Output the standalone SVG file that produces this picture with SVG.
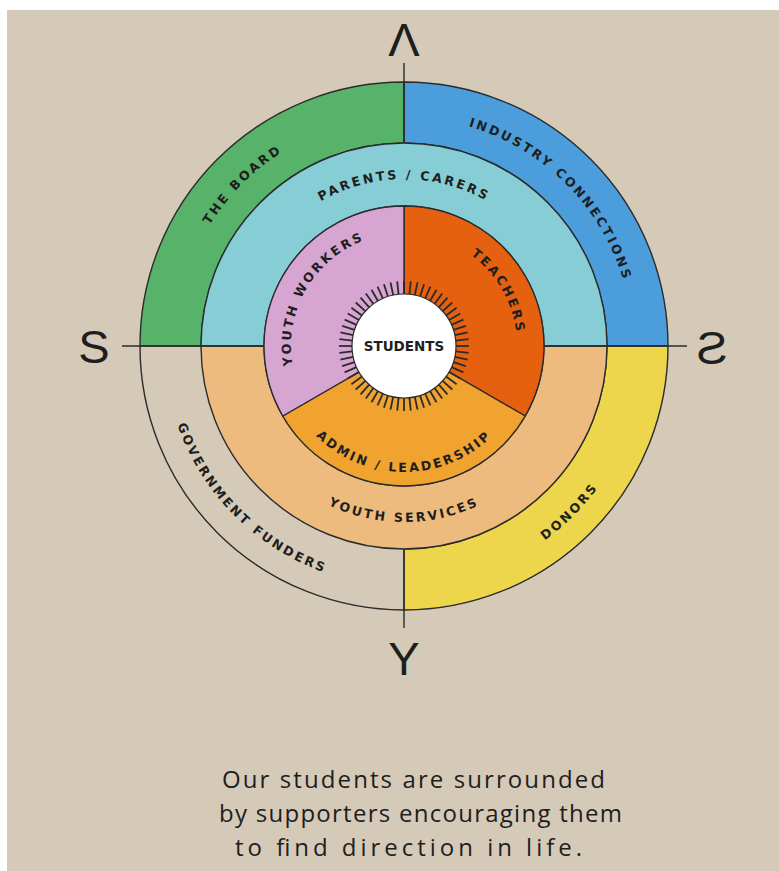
<svg xmlns="http://www.w3.org/2000/svg" xmlns:xlink="http://www.w3.org/1999/xlink" width="779" height="871" viewBox="0 0 779 871">
  <style>
    .seg { stroke: #2b2b2b; stroke-width: 1.4; stroke-linejoin: round; }
    .line { stroke: #2b2b2b; stroke-width: 1.4; fill: none; }
    .lbl { font-family: "DejaVu Sans", "Liberation Sans", sans-serif; font-weight: bold; font-size: 12.6px; letter-spacing: 2.5px; fill: #1e1e1e; }
    .compass { font-family: "Liberation Sans", Arial, sans-serif; font-size: 47px; fill: #1e1e1e; text-anchor: middle; }
    .hand { font-family: "Open Sans", "DejaVu Sans", sans-serif; font-weight: 400; font-size: 24px; fill: #1e1e1e; }
    .tick { stroke: #2b2b2b; stroke-width: 1.8; }
  </style>
  <defs>
    <line id="tick" class="tick" x1="404" y1="294" x2="404" y2="281"/>
    <path id="p-board" d="M178.5,385.8 A229,229 0 0 1 443.8,120.5"/>
    <path id="p-industry" d="M364.2,120.5 A229,229 0 0 1 629.5,385.8"/>
    <path id="p-parents" d="M247.1,288.9 A167,167 0 0 1 560.9,288.9"/>
    <path id="p-youthw" d="M306.1,402.5 A113,113 0 0 1 404,233"/>
    <path id="p-teachers" d="M404,233 A113,113 0 0 1 501.9,402.5"/>
    <path id="p-admin" d="M285.6,389.1 A126,126 0 0 0 522.4,389.1"/>
    <path id="p-yservices" d="M238.6,406.2 A176,176 0 0 0 569.4,406.2"/>
    <path id="p-gov" d="M172.2,283.9 A240,240 0 0 0 466.1,577.8"/>
    <path id="p-donors" d="M341.9,577.8 A240,240 0 0 0 635.8,283.9"/>
  </defs>

  <rect x="0" y="0" width="779" height="871" fill="#ffffff"/>
  <rect x="7" y="10" width="772" height="861" fill="#D4CAB7"/>

  <!-- outer ring -->
  <g id="the-board">
    <path class="seg" fill="#58B36A" d="M404,82 A264,264 0 0 0 140,346 L201,346 A203,203 0 0 1 404,143 Z"/>
    <text class="lbl"><textPath href="#p-board" startOffset="50%" text-anchor="middle">THE BOARD</textPath></text>
  </g>
  <g id="industry-connections">
    <path class="seg" fill="#4C9DDC" d="M404,82 A264,264 0 0 1 668,346 L607,346 A203,203 0 0 0 404,143 Z"/>
    <text class="lbl"><textPath href="#p-industry" startOffset="50%" text-anchor="middle">INDUSTRY CONNECTIONS</textPath></text>
  </g>
  <g id="donors">
    <path class="seg" fill="#EDD64B" d="M668,346 A264,264 0 0 1 404,610 L404,549 A203,203 0 0 0 607,346 Z"/>
    <text class="lbl"><textPath href="#p-donors" startOffset="50%" text-anchor="middle">DONORS</textPath></text>
  </g>
  <g id="government-funders">
    <path class="seg" fill="none" d="M404,610 A264,264 0 0 1 140,346"/>
    <text class="lbl"><textPath href="#p-gov" startOffset="50%" text-anchor="middle">GOVERNMENT FUNDERS</textPath></text>
  </g>

  <!-- middle ring -->
  <g id="parents-carers">
    <path class="seg" fill="#87CDD6" d="M201,346 A203,203 0 0 1 607,346 L544,346 A140,140 0 0 0 264,346 Z"/>
    <text class="lbl"><textPath href="#p-parents" startOffset="50%" text-anchor="middle">PARENTS / CARERS</textPath></text>
  </g>
  <g id="youth-services">
    <path class="seg" fill="#EEBB7F" d="M607,346 A203,203 0 0 1 201,346 L264,346 A140,140 0 0 0 544,346 Z"/>
    <text class="lbl"><textPath href="#p-yservices" startOffset="50%" text-anchor="middle">YOUTH SERVICES</textPath></text>
  </g>

  <!-- inner ring -->
  <g id="teachers">
    <path class="seg" fill="#E5600F" d="M404,346 L404,206 A140,140 0 0 1 525.24,416 Z"/>
    <text class="lbl"><textPath href="#p-teachers" startOffset="50%" text-anchor="middle">TEACHERS</textPath></text>
  </g>
  <g id="admin-leadership">
    <path class="seg" fill="#F1A32F" d="M404,346 L525.24,416 A140,140 0 0 1 282.76,416 Z"/>
    <text class="lbl"><textPath href="#p-admin" startOffset="50%" text-anchor="middle">ADMIN / LEADERSHIP</textPath></text>
  </g>
  <g id="youth-workers">
    <path class="seg" fill="#D7A5D1" d="M404,346 L282.76,416 A140,140 0 0 1 404,206 Z"/>
    <text class="lbl"><textPath href="#p-youthw" startOffset="50%" text-anchor="middle">YOUTH WORKERS</textPath></text>
  </g>

  <!-- students -->
  <g id="students">
    <g id="ticks">
      <use href="#tick" transform="rotate(0 404 346)"/><use href="#tick" transform="rotate(6 404 346)"/><use href="#tick" transform="rotate(12 404 346)"/><use href="#tick" transform="rotate(18 404 346)"/><use href="#tick" transform="rotate(24 404 346)"/><use href="#tick" transform="rotate(30 404 346)"/><use href="#tick" transform="rotate(36 404 346)"/><use href="#tick" transform="rotate(42 404 346)"/><use href="#tick" transform="rotate(48 404 346)"/><use href="#tick" transform="rotate(54 404 346)"/>
      <use href="#tick" transform="rotate(60 404 346)"/><use href="#tick" transform="rotate(66 404 346)"/><use href="#tick" transform="rotate(72 404 346)"/><use href="#tick" transform="rotate(78 404 346)"/><use href="#tick" transform="rotate(84 404 346)"/><use href="#tick" transform="rotate(90 404 346)"/><use href="#tick" transform="rotate(96 404 346)"/><use href="#tick" transform="rotate(102 404 346)"/><use href="#tick" transform="rotate(108 404 346)"/><use href="#tick" transform="rotate(114 404 346)"/>
      <use href="#tick" transform="rotate(120 404 346)"/><use href="#tick" transform="rotate(126 404 346)"/><use href="#tick" transform="rotate(132 404 346)"/><use href="#tick" transform="rotate(138 404 346)"/><use href="#tick" transform="rotate(144 404 346)"/><use href="#tick" transform="rotate(150 404 346)"/><use href="#tick" transform="rotate(156 404 346)"/><use href="#tick" transform="rotate(162 404 346)"/><use href="#tick" transform="rotate(168 404 346)"/><use href="#tick" transform="rotate(174 404 346)"/>
      <use href="#tick" transform="rotate(180 404 346)"/><use href="#tick" transform="rotate(186 404 346)"/><use href="#tick" transform="rotate(192 404 346)"/><use href="#tick" transform="rotate(198 404 346)"/><use href="#tick" transform="rotate(204 404 346)"/><use href="#tick" transform="rotate(210 404 346)"/><use href="#tick" transform="rotate(216 404 346)"/><use href="#tick" transform="rotate(222 404 346)"/><use href="#tick" transform="rotate(228 404 346)"/><use href="#tick" transform="rotate(234 404 346)"/>
      <use href="#tick" transform="rotate(240 404 346)"/><use href="#tick" transform="rotate(246 404 346)"/><use href="#tick" transform="rotate(252 404 346)"/><use href="#tick" transform="rotate(258 404 346)"/><use href="#tick" transform="rotate(264 404 346)"/><use href="#tick" transform="rotate(270 404 346)"/><use href="#tick" transform="rotate(276 404 346)"/><use href="#tick" transform="rotate(282 404 346)"/><use href="#tick" transform="rotate(288 404 346)"/><use href="#tick" transform="rotate(294 404 346)"/>
      <use href="#tick" transform="rotate(300 404 346)"/><use href="#tick" transform="rotate(306 404 346)"/><use href="#tick" transform="rotate(312 404 346)"/><use href="#tick" transform="rotate(318 404 346)"/><use href="#tick" transform="rotate(324 404 346)"/><use href="#tick" transform="rotate(330 404 346)"/><use href="#tick" transform="rotate(336 404 346)"/><use href="#tick" transform="rotate(342 404 346)"/><use href="#tick" transform="rotate(348 404 346)"/><use href="#tick" transform="rotate(354 404 346)"/>
    </g>
    <circle cx="404" cy="346" r="52" fill="#ffffff" stroke="#2b2b2b" stroke-width="1.2"/>
    <text x="404" y="351" text-anchor="middle" font-family="DejaVu Sans, Liberation Sans, sans-serif" font-weight="bold" font-size="13.5" fill="#1e1e1e">STUDENTS</text>
  </g>

  <!-- compass axes -->
  <g id="connectors">
    <line class="line" x1="404" y1="63" x2="404" y2="143"/>
    <line class="line" x1="404" y1="549" x2="404" y2="628"/>
    <line class="line" x1="122" y1="346" x2="264" y2="346"/>
    <line class="line" x1="544" y1="346" x2="687" y2="346"/>
  </g>

  <g id="compass-letters">
    <text class="compass" x="404" y="56">Λ</text>
    <text class="compass" x="94" y="363">S</text>
    <text class="compass" transform="translate(712 0) scale(-1 1)" x="0" y="364">S</text>
    <text class="compass" x="404" y="675">Y</text>
  </g>

  <g id="caption">
    <text class="hand" x="222" y="788" textLength="383" lengthAdjust="spacing">Our students are surrounded</text>
    <text class="hand" x="219" y="822" textLength="403" lengthAdjust="spacing">by supporters encouraging them</text>
    <text class="hand" x="235" y="856" textLength="347" lengthAdjust="spacing">to find direction in life.</text>
  </g>
</svg>
